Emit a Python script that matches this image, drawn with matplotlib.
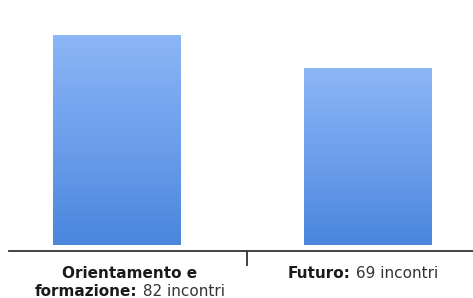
import matplotlib
matplotlib.use("Agg")
import matplotlib.pyplot as plt
import numpy as np
from matplotlib.colors import LinearSegmentedColormap

categories = ["Orientamento e formazione", "Futuro"]
values = [82, 69]
label_lines = [
    [("Orientamento e", "")],
    [("formazione:", " 82 incontri")],
]
right_line = ("Futuro:", " 69 incontri")

W, H = 473, 298
fig = plt.figure(figsize=(W / 100, H / 100), dpi=100)
ax = fig.add_axes([9/W, 47/H, 1 - 9/W, 1 - 47/H])

x = np.arange(len(categories))
width = 0.506
bars = ax.bar(x, values, width=width, bottom=0, color="#6a9ceb", zorder=2)

cmap = LinearSegmentedColormap.from_list("g", ["#4a86dc", "#6d9fec", "#8cb6f6"])
grad = np.linspace(0, 1, 256).reshape(-1, 1)
for b in bars:
    bx, by = b.get_x(), b.get_y()
    bw, bh = b.get_width(), b.get_height()
    im = ax.imshow(grad, extent=[bx, bx + bw, by, by + bh], origin="lower",
                   cmap=cmap, aspect="auto", zorder=3)
    im.set_clip_path(b)

ax.set_xlim(-0.428, 1.420)
ax.set_ylim(-2.3, 95.7)
for s in ["top", "right", "left"]:
    ax.spines[s].set_visible(False)
ax.spines["bottom"].set_color("#333333")
ax.spines["bottom"].set_linewidth(1.3)
ax.set_yticks([])
ax.set_xticks([0.52])
ax.set_xticklabels([""])
ax.tick_params(axis="x", length=11, width=1.3, color="#333333", direction="out")

fs = 11
fam = "DejaVu Sans"
renderer = fig.canvas.get_renderer()

def place_line(bold, rest, cx, baseline_y):
    """Place a bold + regular text line centered at pixel cx, baseline at pixel y (from top)."""
    y_fig = 1 - baseline_y / H
    t1 = fig.text(0, y_fig, bold, fontsize=fs, fontweight="bold", color="#1a1a1a",
                  family=fam, ha="left", va="baseline")
    w1 = t1.get_window_extent(renderer).width
    w2 = 0
    t2 = None
    if rest:
        t2 = fig.text(0, y_fig, rest, fontsize=fs, color="#333333",
                      family=fam, ha="left", va="baseline")
        w2 = t2.get_window_extent(renderer).width
    start = cx - (w1 + w2) / 2
    t1.set_x(start / W)
    if t2 is not None:
        t2.set_x((start + w1) / W)

place_line(label_lines[0][0][0], label_lines[0][0][1], 130, 277.5)
place_line(label_lines[1][0][0], label_lines[1][0][1], 130, 296.5)
place_line(right_line[0], right_line[1], 363, 277.5)

fig.savefig("out.png", dpi=100)
